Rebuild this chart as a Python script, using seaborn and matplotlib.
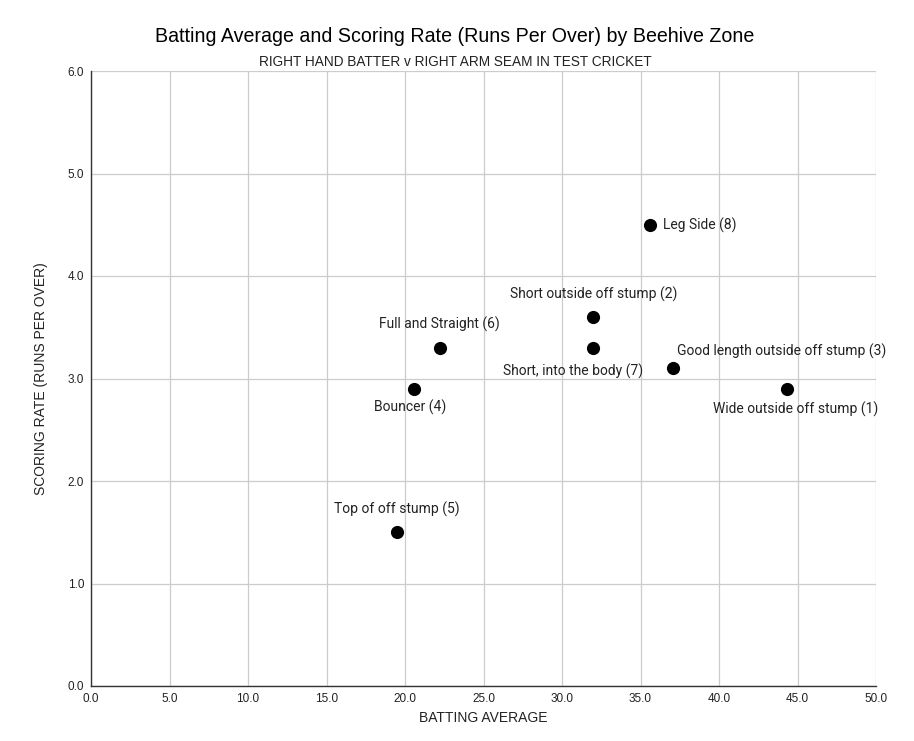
import matplotlib
matplotlib.use("Agg")
import matplotlib.pyplot as plt
import seaborn as sns
import pandas as pd

zones = ["Wide outside off stump (1)", "Short outside off stump (2)",
         "Good length outside off stump (3)", "Bouncer (4)", "Top of off stump (5)",
         "Full and Straight (6)", "Short, into the body (7)", "Leg Side (8)"]
batting_avg = [44.3, 32.0, 37.1, 20.6, 19.5, 22.2, 32.0, 35.6]
scoring_rate = [2.9, 3.6, 3.1, 2.9, 1.5, 3.3, 3.3, 4.5]

df = pd.DataFrame({"zone": zones, "avg": batting_avg, "rate": scoring_rate})

# label offsets in pixels (dx, dy) and horizontal alignment
label_style = {
    "Wide outside off stump (1)": (9, -21, "center"),
    "Short outside off stump (2)": (0, 23, "center"),
    "Good length outside off stump (3)": (4, 17, "left"),
    "Bouncer (4)": (-4, -19, "center"),
    "Top of off stump (5)": (0, 23, "center"),
    "Full and Straight (6)": (0, 23, "center"),
    "Short, into the body (7)": (-20, -24, "center"),
    "Leg Side (8)": (13, -1, "left"),
}

sns.set_theme(style="white")
plt.rcParams["font.family"] = ["Roboto", "DejaVu Sans"]

fig = plt.figure(figsize=(9.14, 7.41), dpi=100)
ax = fig.add_axes([91/914, 55/741, 785/914, 615/741])

sns.scatterplot(data=df, x="avg", y="rate", ax=ax, color="black", s=90,
                edgecolor="black", linewidth=0, zorder=3)

ax.set_xlim(0, 50)
ax.set_ylim(0, 6)
ax.set_xticks([i * 5 for i in range(11)])
ax.set_yticks([i * 1.0 for i in range(7)])
ax.set_xticklabels([f"{i*5:.1f}" for i in range(11)], fontsize=8.5,
                   family=["Liberation Sans"], color="#222222")
ax.set_yticklabels([f"{i:.1f}" for i in range(7)], fontsize=8.5,
                   family=["Liberation Sans"], color="#222222")
ax.tick_params(axis="x", length=0, pad=5)
ax.tick_params(axis="y", length=0, pad=5)
ax.grid(True, color="#cccccc", linewidth=0.9)
ax.set_axisbelow(True)
for side in ["top", "right"]:
    ax.spines[side].set_visible(False)
for side in ["left", "bottom"]:
    ax.spines[side].set_color("#333333")
    ax.spines[side].set_linewidth(1.0)

ax.set_xlabel("BATTING AVERAGE", fontsize=10, family=["Liberation Sans"],
              color="#222222", labelpad=4.5)
ax.set_ylabel("SCORING RATE (RUNS PER OVER)", fontsize=10,
              family=["Liberation Sans"], color="#222222", labelpad=14)

for z, x, y in zip(zones, batting_avg, scoring_rate):
    dx, dy, ha = label_style[z]
    ax.annotate(z, (x, y), xytext=(dx * 0.72, dy * 0.72), textcoords="offset points",
                ha=ha, va="center", fontsize=10, color="#222222",
                family=["Roboto", "DejaVu Sans"])

fig.text(455/914, 1 - 36/741, "Batting Average and Scoring Rate (Runs Per Over) by Beehive Zone",
         ha="center", va="center", fontsize=14.1, family=["Liberation Sans"], color="black")
fig.text(455/914, 1 - 62/741, "RIGHT HAND BATTER v RIGHT ARM SEAM IN TEST CRICKET",
         ha="center", va="center", fontsize=9.8, family=["Liberation Sans"], color="#222222")

fig.savefig("out.png", dpi=100)
